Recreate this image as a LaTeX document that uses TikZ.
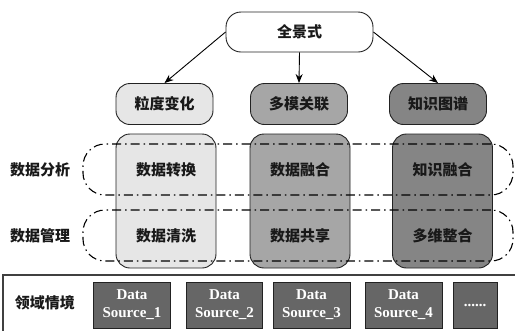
\documentclass[tikz,border=0pt]{standalone}
\usepackage{fontspec}
\usepackage{xcolor}
\usepackage{tikz}
\newfontfamily\cjk{Noto Sans CJK SC}
\newfontfamily\srcfont{Liberation Serif}
\usetikzlibrary{positioning,calc,arrows.meta}

\definecolor{lightg}{HTML}{E6E6E6}
\definecolor{midg}{HTML}{A6A6A6}
\definecolor{darkg}{HTML}{858585}
\definecolor{srcg}{HTML}{666666}
\definecolor{edgeg}{HTML}{222222}

\begin{document}
\begin{tikzpicture}[x=1pt, y=-1pt,
    every node/.style={font=\cjk\bfseries\fontsize{15}{18}\selectfont, text=black!90},
    topbox/.style={draw=edgeg, line width=0.9pt, rounded corners=15pt, fill=white, minimum width=147pt, minimum height=40pt},
    midbox/.style={draw=edgeg, line width=0.9pt, rounded corners=14pt, minimum width=97pt, minimum height=41pt},
    tallbox/.style={draw=edgeg, line width=0.9pt, rounded corners=14pt, minimum width=100pt, minimum height=134pt},
    grp/.style={draw=black, line width=1.1pt, dash pattern=on 9pt off 4pt on 1.5pt off 4pt, rounded corners=22pt, minimum width=430pt, minimum height=51pt},
    srcbox/.style={draw=edgeg, line width=0.9pt, fill=srcg, minimum width=77pt, minimum height=46pt, align=center, text=white, font=\srcfont\bfseries\fontsize{15}{18}\selectfont},
    arr/.style={-{Stealth[length=9pt, width=7pt]}, line width=0.9pt}]
    \useasboundingbox (0,0) rectangle (515,330);

    % Top
    \node[topbox] (pano) at (299.5,32) {全景式};

    % Second row
    \node[midbox, fill=lightg] (gran) at (164.5,104) {粒度变化};
    \node[midbox, fill=midg] (multi) at (299,104) {多模关联};
    \node[midbox, fill=darkg] (kg) at (438,104) {知识图谱};

    % Arrows
    \draw[arr] (pano.west) -- (gran.north);
    \draw[arr] (pano.south) -- (multi.north);
    \draw[arr] (pano.east) -- (kg.north);

    % Columns
    \node[tallbox, fill=lightg] (colA) at (166,201) {};
    \node[tallbox, fill=midg] (colB) at (300,201) {};
    \node[tallbox, fill=darkg] (colC) at (442.5,201) {};

    % Layers
    \node[grp] (anal) at (298,169.5) {};
    \node[grp] (mgmt) at (298,235.5) {};
    \node (analtxt) at (40,170) {数据分析};
    \node (mgmttxt) at (40,236) {数据管理};

    \node (convert) at (colA |- anal) {数据转换};
    \node (clean) at (colA |- mgmt) {数据清洗};
    \node (fuse) at (colB |- anal) {数据融合};
    \node (share) at (colB |- mgmt) {数据共享};
    \node (kfuse) at (colC |- anal) {知识融合};
    \node (integ) at (colC |- mgmt) {多维整合};

    % Domain
    \coordinate (fc) at (3,335);
    \coordinate (fr) at (520,275);
    \draw[draw=black!75, line width=1.2pt] (fc) |- (fr);
    \node (domain) at (45,303) {领域情境};

    \node[srcbox] (src1) at (132,305) {Data\\Source\_1};
    \node[srcbox, minimum width=76pt] (src2) at (224.5,305) {Data\\Source\_2};
    \node[srcbox] (src3) at (311.5,305) {Data\\Source\_3};
    \node[srcbox] (src4) at (403.5,305) {Data\\Source\_4};
    \node[srcbox, minimum width=44pt] (src5) at (475,305) {......};
\end{tikzpicture}
\end{document}
